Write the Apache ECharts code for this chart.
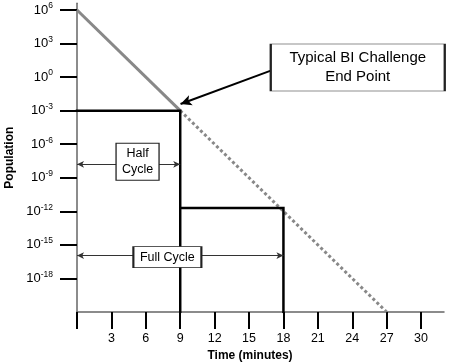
<!DOCTYPE html>
<html>
<head>
<meta charset="utf-8">
<script src="https://cdn.jsdelivr.net/npm/echarts@6/dist/echarts.min.js"></script>
<style>
html,body{margin:0;padding:0;background:#fff;}
#chart{width:456px;height:363px;}
</style>
</head>
<body>
<div id="chart"></div>
<script>
// ---- data ----
const timeTickValues = [0, 3, 6, 9, 12, 15, 18, 21, 24, 27, 30];
const popTickExponents = [6, 3, 0, -3, -6, -9, -12, -15, -18];

const decayTime = [0, 9];
const decayPop = [1e6, 1e-3];
const extrapTime = [9, 27];
const extrapPop = [1e-3, 1e-21];
const halfCycleTime = [0, 9, 9];
const halfCyclePop = [1e-3, 1e-3, 1e-21];
const fullCycleTime = [9, 18, 18];
const fullCyclePop = [2e-12, 2e-12, 1e-21];

const halfArrow = { from: 0, to: 9, pop: 1.6e-8, label: 'Half\nCycle' };
const fullArrow = { from: 0, to: 18, pop: 1.1e-16, label: 'Full Cycle' };
const calloutText = 'Typical BI Challenge\nEnd Point';
const calloutBox = [24.48, 7.2];
const calloutArrowStart = [16.9, 3.8];
const calloutArrowEnd = [9.03, 4e-3];
const halfBox = [5.28, 2.75e-8];
const fullBox = [7.88, 8.1e-17];

const zip = (a, b) => a.map((v, i) => [v, b[i]]);

const chart = echarts.init(document.getElementById('chart'));
const font = 'Liberation Sans, Arial, sans-serif';
const popTickValues = popTickExponents.map(e => Math.pow(10, e));

chart.setOption({
  animation: false,
  backgroundColor: '#fff',
  grid: { left: 77, right: 12, top: 3.3, bottom: 51, containLabel: false, outerBoundsMode: 'none' },
  xAxis: {
    type: 'value', min: 0, max: 32, interval: 3,
    name: 'Time (minutes)', nameLocation: 'middle', nameGap: 34,
    nameTextStyle: { fontFamily: font, fontSize: 12, fontWeight: 'bold', color: '#000', padding: [0, 21, 0, 0] },
    axisLine: { lineStyle: { color: '#666', width: 1.5 } },
    axisTick: { show: true, length: 17, lineStyle: { color: '#000', width: 2 }, customValues: timeTickValues },
    axisLabel: { fontFamily: font, fontSize: 12.5, color: '#000', margin: 20,
      customValues: timeTickValues.filter(v => v !== 0) },
    splitLine: { show: false }
  },
  yAxis: {
    type: 'log', logBase: 10, min: 1e-21, max: Math.pow(10, 6.6),
    name: 'Population', nameLocation: 'middle', nameGap: 55,
    nameTextStyle: { fontFamily: font, fontSize: 12, fontWeight: 'bold', color: '#000' },
    axisLine: { lineStyle: { color: '#666', width: 1.5 } },
    axisTick: { show: true, length: 17, lineStyle: { color: '#000', width: 2 }, customValues: popTickValues },
    axisLabel: {
      margin: 24, customValues: popTickValues,
      formatter: v => '{b|10}{s|' + Math.round(Math.log10(v)) + '}',
      rich: {
        b: { fontFamily: font, fontSize: 13, color: '#000' },
        s: { fontFamily: font, fontSize: 8.5, color: '#000', padding: [0, 0, 8, 0] }
      }
    },
    splitLine: { show: false }
  },
  series: [
    { type: 'line', data: zip(decayTime, decayPop), symbol: 'none',
      lineStyle: { color: '#888', width: 3 } },
    { type: 'line', data: zip(extrapTime, extrapPop), symbol: 'none',
      lineStyle: { color: '#888', width: 3, type: [3, 2.6] } },
    { type: 'line', data: zip(halfCycleTime, halfCyclePop), symbol: 'none',
      lineStyle: { color: '#000', width: 2.5, cap: 'square', join: 'miter' } },
    { type: 'line', data: zip(fullCycleTime, fullCyclePop), symbol: 'none',
      lineStyle: { color: '#000', width: 2.5, cap: 'square', join: 'miter' } },
    { type: 'line', data: [], symbol: 'none',
      markLine: {
        silent: true, animation: false,
        label: { show: false },
        data: [
          [ { coord: [halfArrow.from, halfArrow.pop], symbol: 'arrow', symbolSize: [5, 7] },
            { coord: [halfArrow.to, halfArrow.pop], symbol: 'arrow', symbolSize: [5, 7] } ],
          [ { coord: [fullArrow.from, fullArrow.pop], symbol: 'arrow', symbolSize: [5, 7] },
            { coord: [fullArrow.to, fullArrow.pop], symbol: 'arrow', symbolSize: [5, 7] } ]
        ],
        lineStyle: { color: '#333', width: 1, type: 'solid' }
      }
    },
    { type: 'line', data: [], symbol: 'none',
      markLine: {
        silent: true, animation: false,
        label: { show: false },
        data: [
          [ { coord: calloutArrowStart, symbol: 'none' },
            { coord: calloutArrowEnd, symbol: 'arrow', symbolSize: [8, 11] } ]
        ],
        lineStyle: { color: '#000', width: 2, type: 'solid' }
      }
    },
    { type: 'scatter', silent: true, z: 5,
      data: [
        { value: calloutBox, symbolSize: [174, 47],
          label: { formatter: calloutText, fontSize: 15, lineHeight: 19 } },
        { value: halfBox, symbolSize: [43, 37],
          label: { formatter: halfArrow.label, fontSize: 12.5, lineHeight: 16 } },
        { value: fullBox, symbolSize: [68, 21],
          label: { formatter: fullArrow.label, fontSize: 12.5 } }
      ],
      symbol: 'rect',
      itemStyle: { color: '#fff', borderColor: '#222', borderWidth: 1.2, opacity: 1 },
      label: { show: true, position: 'inside', color: '#000', fontFamily: font, align: 'center' }
    }
  ]
});
</script>
</body>
</html>
